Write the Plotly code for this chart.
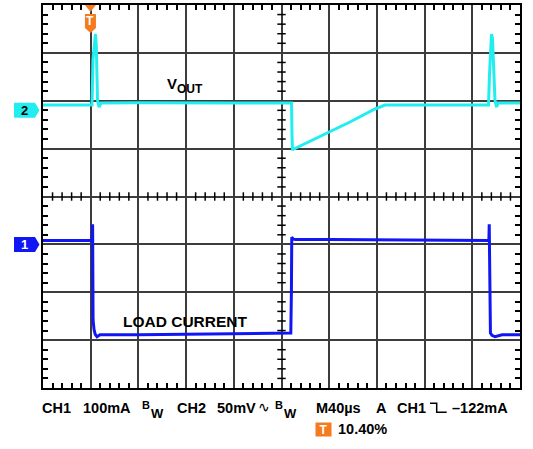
import plotly.graph_objects as go

# ---- data (time in microseconds from left edge of screen) ----
ch1_time_us = [0, 41.3, 41.6, 41.8, 42.0, 42.8, 43.8, 45.3, 47.8, 80, 120, 160, 200,
               207.8, 208.3, 208.6, 210, 212, 240, 280, 320, 360, 373.9, 374.2,
               374.5, 375.2, 376.5, 379, 385, 400]
ch1_current_ma = [8, 8, 42, -80, -158, -178, -188, -193, -189, -189, -188, -187, -186,
                  -185, -100, 15, 11, 10, 10, 9, 9, 8, 8, 42,
                  -60, -185, -190, -193, -189, -189]

ch2_time_us = [0, 20, 41.1, 41.9, 42.8, 44.0, 44.7, 45.7, 47.0, 48.6, 80, 120, 160, 200,
               208.4, 208.8, 209.2, 209.9, 232.3, 257.4, 278.4, 286.8, 300, 340,
               373.6, 374.4, 375.3, 376.1, 376.9, 377.8, 379.0, 380.3, 381.6, 400]
ch2_vout_mv = [5.5, 5.5, 5.5, 52.5, 66, 79.7, 68, 10.8, 3.4, 7.6, 7.8, 7.4, 7.6, 7.6,
               7.6, -25.8, -40.7, -40.7, -27.4, -12.2, 1.4, 5.5, 5.5, 5.5,
               5.5, 36.9, 68.2, 79.7, 75.5, 42.1, 10.8, 3.4, 7.6, 7.6]

trigger_time_us = 39.8
ch1_scale_ma = 100
ch2_scale_mv = 50
time_scale_us = 40

status_line1 = [("CH1", 40), ("100mA", 80.5), ("CH2", 174.5), ("50mV", 214.5),
                ("M40µs", 313.5), ("A", 373.5), ("CH1", 394.5), ("–122mA", 450)]
status_line2 = "10.40%"

CYAN = "#22EEF0"
BLUE = "#1016F4"
ORANGE = "#F47B20"

# plot area in pixels
L, R, T, B = 43, 520, 5, 388
def px(x):
    return (x - L) / (R - L)
def py(y):
    return (B - y) / (B - T)

fig = go.Figure()

# center-cross minor ticks
vy = [v for v in range(-300, 501, 20) if v % 100 != 0]
fig.add_trace(go.Scatter(x=[200] * len(vy), y=vy, mode="markers",
                         marker=dict(symbol="line-ew", size=6,
                                     line=dict(color="black", width=1.5)),
                         hoverinfo="skip", showlegend=False))
hx = [v for v in range(0, 401, 8) if v % 40 != 0]
fig.add_trace(go.Scatter(x=hx, y=[100] * len(hx), mode="markers",
                         marker=dict(symbol="line-ns", size=6,
                                     line=dict(color="black", width=1.5)),
                         hoverinfo="skip", showlegend=False))

fig.add_trace(go.Scatter(x=ch1_time_us, y=ch1_current_ma, mode="lines",
                         line=dict(color=BLUE, width=3), yaxis="y",
                         showlegend=False, hoverinfo="skip"))
fig.add_trace(go.Scatter(x=ch2_time_us, y=ch2_vout_mv, mode="lines",
                         line=dict(color=CYAN, width=3), yaxis="y2",
                         showlegend=False, hoverinfo="skip"))

axis_common = dict(showticklabels=False, zeroline=False, showline=True,
                   linecolor="black", linewidth=2, mirror="allticks",
                   showgrid=True, gridcolor="#3c3c3c", gridwidth=1.5,
                   ticks="inside", ticklen=0, tickcolor="black", automargin=False)

fig.update_layout(
    width=533, height=449,
    margin=dict(l=L, r=533 - R, t=T, b=449 - B, autoexpand=False),
    paper_bgcolor="white", plot_bgcolor="white",
    hovermode=False,
    xaxis=dict(range=[0, 10 * time_scale_us], dtick=time_scale_us,
               minor=dict(dtick=time_scale_us / 5, ticks="inside", ticklen=5,
                          tickwidth=1.5, tickcolor="black", showgrid=False),
               **axis_common),
    yaxis=dict(range=[-3 * ch1_scale_ma, 5 * ch1_scale_ma], dtick=ch1_scale_ma,
               minor=dict(dtick=ch1_scale_ma / 5, ticks="inside", ticklen=5,
                          tickwidth=1.5, tickcolor="black", showgrid=False),
               **axis_common),
    yaxis2=dict(range=[-5.8 * ch2_scale_mv, 2.2 * ch2_scale_mv], overlaying="y",
                visible=False),
)

font = "Liberation Sans, Arial, sans-serif"
ann = []

def text(t, x, y, size=14.5, color="black", anchor="left", **kw):
    ann.append(dict(text=t, x=px(x), y=py(y), xref="paper", yref="paper",
                    xanchor=anchor, yanchor="middle", showarrow=False,
                    font=dict(family=font, size=size, color=color), **kw))

for s, x in status_line1:
    text(f"<b>{s}</b>", x, 408)
text("<b>B</b>", 139.5, 404.5, size=11)
text("<b>W</b>", 149, 413, size=13)
text("<b>B</b>", 272.5, 404.5, size=11)
text("<b>W</b>", 282, 413, size=13)
text("∿", 256, 407, size=14)
text(f"<b>{status_line2}</b>", 335.5, 429)
ann.append(dict(text="<b>T</b>", x=px(315), y=py(429), xref="paper", yref="paper",
                xanchor="left", yanchor="middle", showarrow=False, width=15, height=13,
                bgcolor=ORANGE, borderpad=0,
                font=dict(family=font, size=12, color="white")))

# trace labels
text("<b>V</b>", 164.5, 83.5, size=15)
text("<b>OUT</b>", 175, 88.5, size=12)
text("<b>LOAD CURRENT</b>", 120.5, 321, size=15.5)

# channel ground markers
shapes = []
marker_path = "M -29,7.5 L -8,7.5 L -3.5,0 L -8,-7.5 L -29,-7.5 Z"
shapes.append(dict(type="path", xref="paper", yref="y", xsizemode="pixel",
                   ysizemode="pixel", xanchor=0, yanchor=0, path=marker_path,
                   fillcolor=BLUE, line=dict(width=0)))
shapes.append(dict(type="path", xref="paper", yref="y2", xsizemode="pixel",
                   ysizemode="pixel", xanchor=0, yanchor=0, path=marker_path,
                   fillcolor=CYAN, line=dict(width=0)))
ann.append(dict(text="<b>1</b>", x=px(24.5), y=0, xref="paper", yref="y",
                xanchor="center", yanchor="middle", showarrow=False,
                font=dict(family=font, size=13, color="white")))
ann.append(dict(text="<b>2</b>", x=px(24.5), y=0, xref="paper", yref="y2",
                xanchor="center", yanchor="middle", showarrow=False,
                font=dict(family=font, size=13, color="black")))

# trigger position marker
shapes.append(dict(type="path", xref="x", yref="paper", xsizemode="pixel",
                   ysizemode="pixel", xanchor=trigger_time_us, yanchor=1,
                   path="M -5.5,0 L 5.5,0 L 0,-7 Z",
                   fillcolor=ORANGE, line=dict(width=0)))
shapes.append(dict(type="path", xref="x", yref="paper", xsizemode="pixel",
                   ysizemode="pixel", xanchor=trigger_time_us, yanchor=1,
                   path="M -5.5,-9 L 5.5,-9 L 5.5,-23 L 0,-28 L -5.5,-23 Z",
                   fillcolor=ORANGE, line=dict(width=0)))
ann.append(dict(text="<b>T</b>", x=trigger_time_us, y=py(21), xref="x", yref="paper",
                xanchor="center", yanchor="middle", showarrow=False,
                font=dict(family=font, size=12, color="white")))

# falling-edge trigger slope symbol
edge = [(430, 403.3), (436.7, 403.3), (436.7, 412.3), (446.7, 412.3)]
path = "M " + " L ".join(f"{px(a):.5f},{py(b):.5f}" for a, b in edge)
shapes.append(dict(type="path", xref="paper", yref="paper", path=path,
                   line=dict(color="black", width=1.5)))

fig.update_layout(annotations=ann, shapes=shapes)
fig.write_html("out.html", config={"displayModeBar": False},
               post_script="document.body.style.margin='0px';")
